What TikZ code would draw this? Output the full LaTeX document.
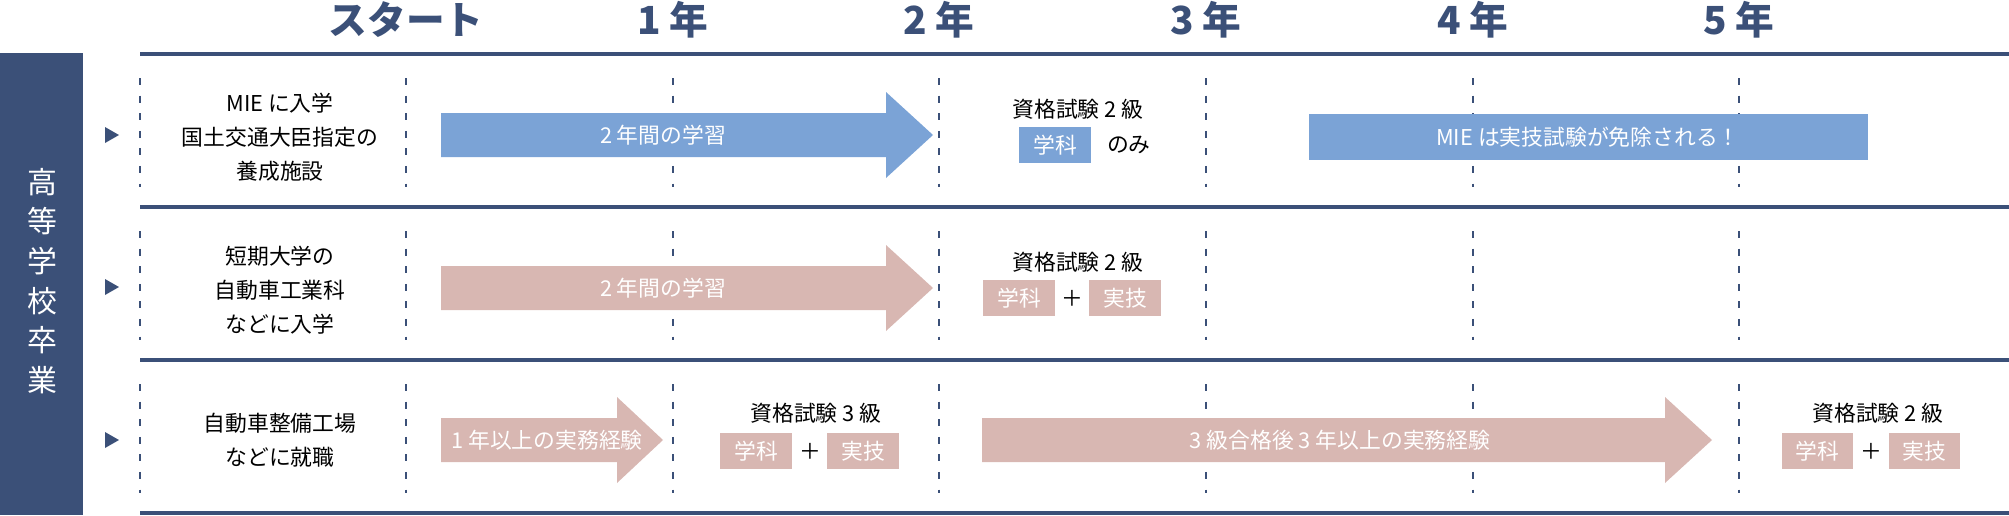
\documentclass[tikz,border=0pt]{standalone}
\usepackage{fontspec}
\setmainfont{Noto Sans CJK JP}
\usetikzlibrary{positioning}
\definecolor{navy}{HTML}{3B5078}
\definecolor{mieblue}{HTML}{7BA3D6}
\definecolor{rose}{HTML}{D8B7B2}

% body from x0 to x1, head to tip, centred on y
\newcommand{\flowarrow}[5]{%
  \fill[#5] (#1,#4-22) -- (#2,#4-22) -- (#2,#4-43) -- (#3,#4) -- (#2,#4+43) -- (#2,#4+22) -- (#1,#4+22) -- cycle;}

\begin{document}
\begin{tikzpicture}[x=0.01cm, y=-0.01cm,
    year/.style={text=navy, font=\fontsize{11}{13}\selectfont\bfseries},
    rowtext/.style={align=center, font=\fontsize{6.2}{9.6}\selectfont},
    bartext/.style={text=white, font=\fontsize{6.2}{8}\selectfont},
    exam/.style={font=\fontsize{6.2}{8}\selectfont},
    tagbox/.style={fill=#1, text=white, minimum width=0.71cm, minimum height=0.35cm, inner sep=0pt, font=\fontsize{6.2}{8}\selectfont},
    rowline/.style={navy, line width=1.2pt},
    yearline/.style={navy, dash pattern=on 2pt off 3pt, line width=0.4pt}
  ]
  \useasboundingbox (0,0) rectangle (2009,515);

  % left bar
  \fill[navy] (0,53) rectangle (83,515);
  \node[text=white, font=\fontsize{8.5}{11.3}\selectfont, align=center] (grad) at (42,281)
    {高\\等\\学\\校\\卒\\業};

  % row lines
  \foreach \y in {54,207,360,513}
    \draw[rowline] (140,\y) -- (2009,\y);

  % year dashed lines
  \foreach \x in {140,406,673,939,1206,1473,1739}
    \foreach \ya/\yb in {78/187,231/340,384/493}
      \draw[yearline] (\x,\ya) -- (\x,\yb);

  % year labels
  \node[year] (ystart) at (406,20) {スタート};
  \node[year] (y1) at (673,20) {1 年};
  \node[year] (y2) at (939,20) {2 年};
  \node[year] (y3) at (1206,20) {3 年};
  \node[year] (y4) at (1473,20) {4 年};
  \node[year] (y5) at (1739,20) {5 年};

  % markers
  \foreach \y in {135,287,440}
    \fill[navy] (105,\y-8) -- (119,\y) -- (105,\y+8) -- cycle;

  % row 1
  \node[rowtext] (mie) at (280,137) {MIE に入学\\国土交通大臣指定の\\養成施設};
  \flowarrow{441}{886}{933}{135}{mieblue}
  \node[bartext] (mieStudy) at (663,135) {2 年間の学習};
  \node[exam] (mieExam) at (1078,109) {資格試験 2 級};
  \node[tagbox=mieblue] (mieGaku) at (1055,145) {学科};
  \node[exam, right=1pt of mieGaku] (mieOnly) {のみ};
  \fill[mieblue] (1309,114) rectangle (1868,160);
  \node[bartext] (mieFree) at (1588,137) {MIE は実技試験が免除される！};

  % row 2
  \node[rowtext] (college) at (280,290) {短期大学の\\自動車工業科\\などに入学};
  \flowarrow{441}{886}{933}{288}{rose}
  \node[bartext] (colStudy) at (663,288) {2 年間の学習};
  \node[exam] (colExam) at (1078,262) {資格試験 2 級};
  \node[tagbox=rose] (colGaku) at (1019,298) {学科};
  \node[tagbox=rose] (colJitsu) at (1125,298) {実技};
  \node[exam] (colPlus) at (1072,298) {＋};

  % row 3
  \node[rowtext] (shop) at (280,440) {自動車整備工場\\などに就職};
  \flowarrow{441}{617}{663}{440}{rose}
  \node[bartext] (shopWork) at (547,440) {1 年以上の実務経験};
  \node[exam] (shopExam3) at (816,413) {資格試験 3 級};
  \node[tagbox=rose] (shopGaku3) at (756,451) {学科};
  \node[tagbox=rose] (shopJitsu3) at (863,451) {実技};
  \node[exam] (shopPlus3) at (810,451) {＋};
  \flowarrow{982}{1665}{1712}{440}{rose}
  \node[bartext] (shopWork3) at (1340,440) {3 級合格後 3 年以上の実務経験};
  \node[exam] (shopExam2) at (1878,413) {資格試験 2 級};
  \node[tagbox=rose] (shopGaku2) at (1817,451) {学科};
  \node[tagbox=rose] (shopJitsu2) at (1924,451) {実技};
  \node[exam] (shopPlus2) at (1871,451) {＋};
\end{tikzpicture}
\end{document}
